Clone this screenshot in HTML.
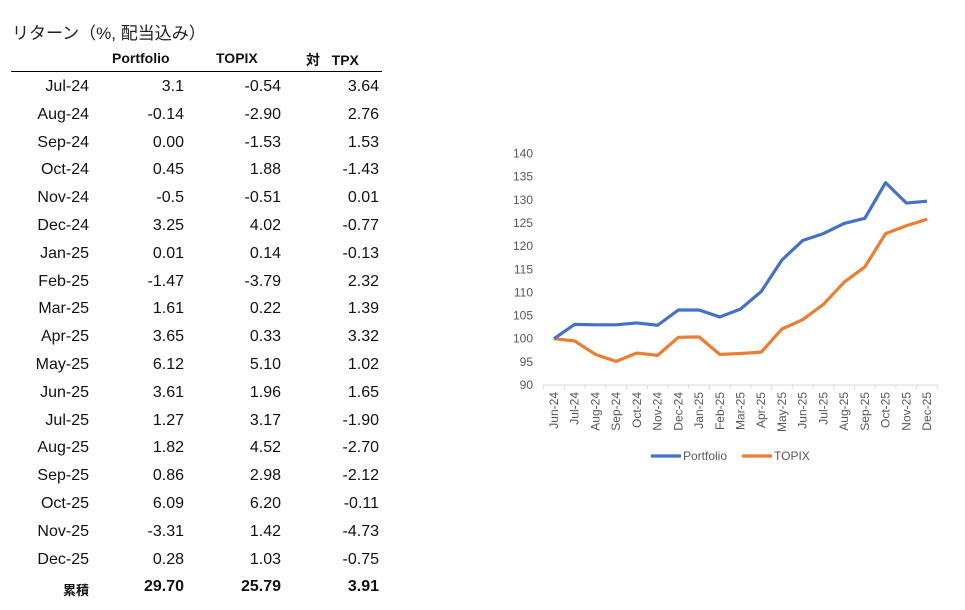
<!DOCTYPE html>
<html><head><meta charset="utf-8">
<style>
body{margin:0;width:965px;height:610px;background:#fff;position:relative;overflow:hidden;font-family:"Liberation Sans","Noto Sans CJK JP",sans-serif;color:#111}
.t{position:absolute;font-size:16px;white-space:nowrap}
.r{text-align:right}
#title{left:12px;top:19px;font-size:17px;color:#222}
.h{font-weight:bold;font-size:14px;top:50px}
#rule{position:absolute;left:11px;top:71px;width:371px;height:1px;background:#000}
</style></head><body>
<div id="title" class="t">リターン（%, 配当込み）</div>
<div class="t h" style="left:112px">Portfolio</div>
<div class="t h" style="left:216px">TOPIX</div>
<div class="t h" style="left:306px">対&nbsp;&nbsp;&nbsp;TPX</div>
<div id="rule"></div>
<div id="rows"></div>
<svg id="chart" width="965" height="610" style="position:absolute;left:0;top:0"></svg>
<script>
const months=["Jul-24","Aug-24","Sep-24","Oct-24","Nov-24","Dec-24","Jan-25","Feb-25","Mar-25","Apr-25","May-25","Jun-25","Jul-25","Aug-25","Sep-25","Oct-25","Nov-25","Dec-25"];
const pfRet=["3.1","-0.14","0.00","0.45","-0.5","3.25","0.01","-1.47","1.61","3.65","6.12","3.61","1.27","1.82","0.86","6.09","-3.31","0.28"];
const tpRet=["-0.54","-2.90","-1.53","1.88","-0.51","4.02","0.14","-3.79","0.22","0.33","5.10","1.96","3.17","4.52","2.98","6.20","1.42","1.03"];
const diffRet=["3.64","2.76","1.53","-1.43","0.01","-0.77","-0.13","2.32","1.39","3.32","1.02","1.65","-1.90","-2.70","-2.12","-0.11","-4.73","-0.75"];
const totals=["29.70","25.79","3.91"];
const cats=["Jun-24","Jul-24","Aug-24","Sep-24","Oct-24","Nov-24","Dec-24","Jan-25","Feb-25","Mar-25","Apr-25","May-25","Jun-25","Jul-25","Aug-25","Sep-25","Oct-25","Nov-25","Dec-25"];
const portfolio=[100,103.1,103.0,103.0,103.4,102.9,106.2,106.2,104.7,106.4,110.2,117.0,121.2,122.7,124.9,126.0,133.7,129.3,129.7];
const topix=[100,99.5,96.6,95.1,96.9,96.4,100.3,100.4,96.6,96.8,97.1,102.1,104.1,107.4,112.2,115.5,122.7,124.4,125.8];
const yTicks=[90,95,100,105,110,115,120,125,130,135,140];

const rows=document.getElementById('rows');
function cell(txt,right,top,bold,name){
  const d=document.createElement('div');
  d.className='t r';
  d.style.right=(965-right)+'px';d.style.top=top+'px';
  if(bold){d.style.fontWeight='bold';}
  d.textContent=txt;
  
  
  rows.appendChild(d);
}
months.forEach((m,i)=>{
  const top=78+i*27.8;
  cell(m,89,top,false,'row-label');
  cell(pfRet[i],184,top,false,'portfolio-return');
  cell(tpRet[i],281,top,false,'topix-return');
  cell(diffRet[i],379,top,false,'relative-return');
});
const tt=78+18*27.8;
const lab=document.createElement('div');
lab.className='t r';lab.style.right=(965-89)+'px';lab.style.top=(tt+2)+'px';lab.style.fontSize='13px';lab.style.fontWeight='bold';lab.textContent='累積';


rows.appendChild(lab);
cell(totals[0],184,tt,true,'portfolio-total');
cell(totals[1],281,tt,true,'topix-total');
cell(totals[2],379,tt,true,'relative-total');

const svg=document.getElementById('chart');const NS='http://www.w3.org/2000/svg';
const x0=554,x1=927,yBase=385,yTop=153.5;
const xs=i=>x0+i*(x1-x0)/(cats.length-1);
const ys=v=>yBase-(v-90)*(yBase-yTop)/50;
function el(tag,attrs){const e=document.createElementNS(NS,tag);for(const k in attrs)e.setAttribute(k,attrs[k]);svg.appendChild(e);return e;}
yTicks.forEach(v=>{const t=el('text',{x:533,y:ys(v)+4,'text-anchor':'end','font-size':'12','fill':'#595959','font-family':'Liberation Sans'});t.textContent=v;

});
const ax=el('line',{x1:543,x2:937,y1:yBase,y2:yBase,stroke:'#d9d9d9','stroke-width':1});


const step=(x1-x0)/(cats.length-1);
for(let i=0;i<=cats.length;i++){const tk=el('line',{x1:x0-step/2+i*step,x2:x0-step/2+i*step,y1:yBase,y2:yBase+4,stroke:'#d9d9d9'});

}
cats.forEach((c,i)=>{const t=el('text',{transform:`translate(${xs(i)+4},${yBase+7}) rotate(-90)`,'text-anchor':'end','font-size':'12','fill':'#595959','font-family':'Liberation Sans'});t.textContent=c;

});
function line(data,color,name){const p=el('polyline',{points:data.map((v,i)=>xs(i)+','+ys(v)).join(' '),fill:'none',stroke:color,'stroke-width':3.2,'stroke-linejoin':'round'});

}
line(topix,'#ed7d31','topix-line');
line(portfolio,'#4472c4','portfolio-line');
[['Portfolio','#4472c4',651],['TOPIX','#ed7d31',742]].forEach(([n,c,x])=>{
  const l=el('line',{x1:x,x2:x+30,y1:456,y2:456,stroke:c,'stroke-width':3.2});
  
  
  const t=el('text',{x:x+32,y:460,'font-size':'12','fill':'#595959','font-family':'Liberation Sans'});t.textContent=n;
  
  
});
</script>
</body></html>
